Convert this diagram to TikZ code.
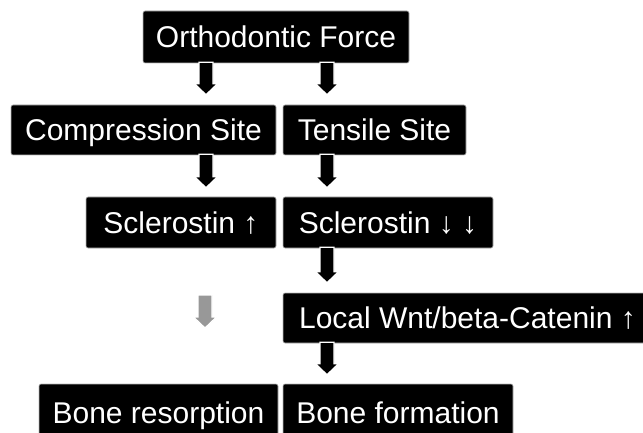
\documentclass[tikz,border=0pt]{standalone}
\usepackage{fontspec}
\setmainfont{Liberation Sans}
\usetikzlibrary{calc}
\begin{document}
\begin{tikzpicture}[x=1pt,y=-1pt,
  box/.style={fill=black, draw=gray!55, line width=0.6pt, rounded corners=2pt,
    text=white, inner sep=0pt, font=\fontsize{30}{32}\selectfont,
    text height=21.5pt, text depth=0pt, minimum height=50pt},
  blk/.style 2 args={fill=#1, draw=white, line width=1.2pt, to path={
    let \p1=(\tikztostart), \p2=(\tikztotarget) in
    (\x1-7pt,\y1+1pt) -- (\x1+7pt,\y1+1pt) -- (\x1+7pt,\y2+#2+11pt)
    -- (\x1+11.5pt,\y2+#2+11pt) -- (\x1,\y2+#2) -- (\x1-11.5pt,\y2+#2+11pt)
    -- (\x1-7pt,\y2+#2+11pt) -- cycle}}]
\useasboundingbox (0,0) rectangle (643,433);
\clip (0,0) rectangle (643,433);

\node[box, minimum width=266pt, minimum height=52pt] (ortho) at (276,37) {Orthodontic Force};
\node[box, minimum width=265pt] (comp) at (143.5,130) {Compression Site};
\node[box, minimum width=183pt] (tens) at (374.5,130) {Tensile Site};
\node[box, minimum width=190pt, minimum height=51pt] (scl1) at (181,222.5) {Sclerostin ↑};
\node[box, minimum width=210pt, minimum height=51pt] (scl2) at (388,222.5) {Sclerostin ↓ ↓};
\node[box, minimum width=369pt] (wnt) at (467.5,318) {Local Wnt/beta-Catenin ↑};
\node[box, minimum width=239pt, minimum height=58pt] (bres) at (158.5,413) {Bone resorption};
\node[box, minimum width=230pt, minimum height=58pt] (bfor) at (398,413) {Bone formation};

\coordinate (cL) at (206,0);
\coordinate (cR) at (327,0);
\coordinate (g1) at (205,296);
\coordinate (g2) at (205,328);

\draw[blk={black}{10pt}] (ortho.south -| cL) to (comp.north -| cL);
\draw[blk={black}{10pt}] (ortho.south -| cR) to (tens.north -| cR);
\draw[blk={black}{9pt}] (comp.south -| cL) to (scl1.north -| cL);
\draw[blk={black}{9pt}] (tens.south -| cR) to (scl2.north -| cR);
\draw[blk={black}{10pt}] (scl2.south -| cR) to (wnt.north -| cR);
\draw[blk={black}{9pt}] (wnt.south -| cR) to (bfor.north -| cR);
\draw[blk={gray!85!black!70}{0pt}] (g1) to (g2);
\end{tikzpicture}
\end{document}
